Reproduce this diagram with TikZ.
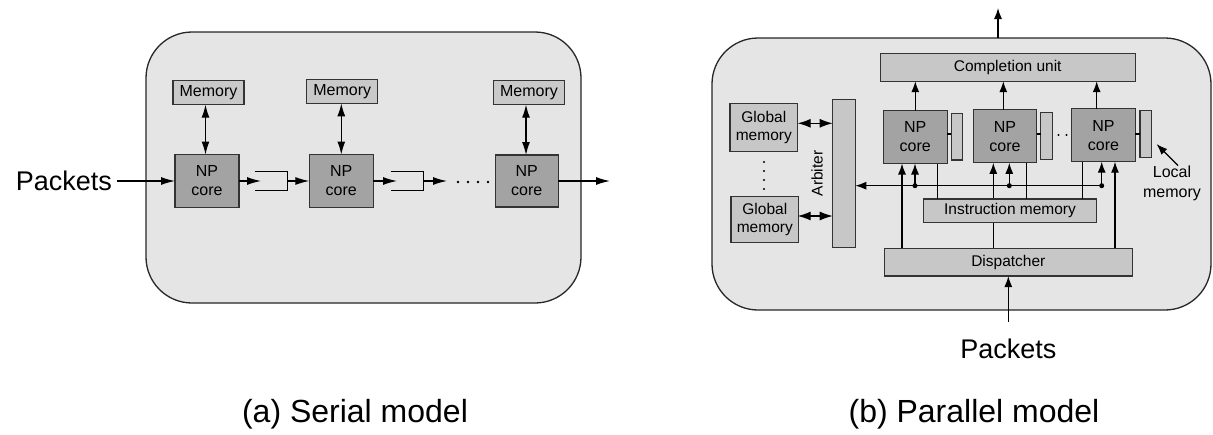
\documentclass[tikz,border=0pt]{standalone}
\usepackage{fontspec}
\setmainfont{Liberation Sans}
\usetikzlibrary{arrows.meta}
\begin{document}
\begin{tikzpicture}[x=1pt,y=-1pt,
  every node/.style={inner sep=0pt, outer sep=0pt},
  panel/.style={draw=black!85, line width=1.3pt, fill=black!10, rounded corners=46pt},
  membox/.style={draw=black!80, line width=1.3pt, fill=black!21, font=\fontsize{16}{18}\selectfont},
  corebox/.style={draw=black!80, line width=1.3pt, fill=black!36, font=\fontsize{16}{19}\selectfont, align=center},
  rcorebox/.style={draw=black!80, line width=1.3pt, fill=black!36, font=\fontsize{16}{19}\selectfont, align=center},
  unitbox/.style={draw=black!80, line width=1.3pt, fill=black!22, font=\fontsize{15.5}{18}\selectfont, align=center},
  conn/.style={line width=1.2pt, draw=black},
  arr/.style={conn, -{Latex[length=14pt,width=8pt]}},
  darr/.style={conn, {Latex[length=13pt,width=8pt]}-{Latex[length=13pt,width=8pt]}},
  sarr/.style={conn, -{Latex[length=11pt,width=8pt]}},
  sdarr/.style={conn, {Latex[length=13pt,width=9pt]}-{Latex[length=13pt,width=9pt]}},
  bigtext/.style={font=\fontsize{27}{30}\selectfont},
  captext/.style={font=\fontsize{32}{35}\selectfont}
]
\useasboundingbox (0,0) rectangle (1213,434);

% ---------------- (a) Serial model ----------------
\node[panel, minimum width=435pt, minimum height=271pt] (pana) at (363.5,167.5) {};

\node[membox, minimum width=71pt, minimum height=24pt] (mem1) at (208.5,92.7) {Memory};
\node[membox, minimum width=71pt, minimum height=24pt] (mem2) at (342.3,91.3) {Memory};
\node[membox, minimum width=71pt, minimum height=24pt] (mem3) at (529,92.7) {Memory};

\node[corebox, minimum width=64pt, minimum height=53pt] (np1) at (207,181) {NP\\core};
\node[corebox, minimum width=64pt, minimum height=53pt] (np2) at (341.3,181) {NP\\core};
\node[corebox, minimum width=63pt, minimum height=52pt] (np3) at (526.7,181) {NP\\core};

\node[minimum width=33pt, minimum height=19pt] (q1) at (271.3,181) {};
\node[minimum width=33pt, minimum height=19pt] (q2) at (407.3,181) {};
\draw[conn] (q1.north west) -- (q1.north east) -- (q1.south east) -- (q1.south west);
\draw[conn] (q2.north west) -- (q2.north east) -- (q2.south east) -- (q2.south west);

\node[bigtext, anchor=east] (pkta) at (112,181) {Packets};
\coordinate (qa1) at (261,181);
\coordinate (qa2) at (397,181);
\coordinate (dotsa) at (447,181);
\coordinate (outa) at (610,181);

\draw[arr] ([xshift=5pt]pkta.east) -- (np1.west);
\draw[arr] (np1.east) -- (qa1);
\draw[arr] (q1.east) -- (np2.west);
\draw[arr] (np2.east) -- (qa2);
\draw[arr] (q2.east) -- (dotsa);
\draw[arr] (np3.east) -- (outa);
\foreach \x in {458,468,478,488} \fill (\x,182) circle (1.3pt);

\draw[darr] ([xshift=-3pt]mem1.south) -- ([xshift=-3pt]mem1.south |- np1.north);
\draw[darr] ([xshift=-1pt]mem2.south) -- ([xshift=-1pt]mem2.south |- np2.north);
\draw[darr] ([xshift=-3pt]mem3.south) -- ([xshift=-3pt]mem3.south |- np3.north);

\node[captext] (capa) at (355,414) {(a) Serial model};

% ---------------- (b) Parallel model ----------------
\node[panel, minimum width=499pt, minimum height=272pt] (panb) at (961.5,174) {};

\node[unitbox, minimum width=255pt, minimum height=28pt] (comp) at (1007.7,67.2) {Completion unit};

\node[rcorebox, minimum width=64pt, minimum height=53pt] (npa) at (915.3,137) {NP\\core};
\node[rcorebox, minimum width=63.4pt, minimum height=53pt] (npb) at (1005,136.3) {NP\\core};
\node[rcorebox, minimum width=63.6pt, minimum height=53pt] (npc) at (1103.5,135.2) {NP\\core};

\node[unitbox, minimum width=11.4pt, minimum height=46.7pt] (lma) at (957,136.7) {};
\node[unitbox, minimum width=11.6pt, minimum height=47pt] (lmb) at (1046.5,136) {};
\node[unitbox, minimum width=11.7pt, minimum height=46.6pt] (lmc) at (1145.8,134) {};
\draw[conn] (npa.east |- 0,134) -- (lma.west |- 0,134);
\draw[conn] (npb.east |- 0,134) -- (lmb.west |- 0,134);
\draw[conn] (npc.east |- 0,134) -- (lmc.west |- 0,134);
\fill (1058.5,135) circle (1.2pt);
\fill (1066.5,135) circle (1.2pt);

\node[unitbox, minimum width=67.7pt, minimum height=48.4pt] (gm1) at (763.8,127.5) {Global\\memory};
\node[unitbox, minimum width=67.7pt, minimum height=45.6pt] (gm2) at (764.8,219.5) {Global\\memory};
\foreach \y in {162,171,180,189} \fill (764,\y) circle (1.2pt);

\node[unitbox, minimum width=22.6pt, minimum height=148pt] (arb) at (844,173.3) {};
\node[font=\fontsize{15.5}{18}\selectfont, rotate=90] (arbl) at (817,173.3) {Arbiter};

\node[unitbox, minimum width=173.4pt, minimum height=23.7pt] (im) at (1010,210.8) {Instruction memory};
\node[unitbox, minimum width=248pt, minimum height=27.7pt] (disp) at (1008.3,262.2) {Dispatcher};

% arrows to completion unit
\draw[sarr] (npa.north) -- (npa.north |- comp.south);
\draw[sarr] ([xshift=-1.7pt]npb.north) -- ([xshift=-1.7pt]npb.north |- comp.south);
\draw[sarr] ([xshift=-6.8pt]npc.north) -- ([xshift=-6.8pt]npc.north |- comp.south);

% output and input
\coordinate (outb) at (998,8);
\draw[sarr] (panb.north -| outb) -- (outb);
\node[bigtext] (pktb) at (1008.3,349) {Packets};
\coordinate (inb) at (1008.3,322);
\draw[sarr] (inb) -- (inb |- disp.south);

% bus to arbiter
\coordinate (ba) at (915,185.7);
\coordinate (bb) at (1009.3,185.7);
\coordinate (bc) at (1101.7,185.7);
\draw[sarr] (bc) -- (bc -| arb.east);
\foreach \c in {ba,bb,bc} \fill (\c) circle (2.5pt);
\draw[sarr] (ba) -- (ba |- npa.south);
\draw[sarr] (bb) -- (bb |- npb.south);
\draw[sarr] (bc) -- (bc |- npc.south);

% dispatcher to cores
\draw[sarr] (902,0 |- disp.north) -- (902,0 |- npa.south);
\draw[sarr] (993.3,0 |- disp.north) -- (993.3,0 |- npb.south);
\draw[sarr] (1115,0 |- disp.north) -- (1115,0 |- npc.south);
% instruction memory drawn over the dispatcher line
\node[unitbox, minimum width=173.4pt, minimum height=23.7pt] at (im) {Instruction memory};

% instruction memory to cores
\draw[conn] (937.3,0 |- npa.south) -- (937.3,0 |- im.north);
\draw[conn] (1026.7,0 |- npb.south) -- (1026.7,0 |- im.north);
\draw[conn] (1082.3,0 |- npc.south) -- (1082.3,0 |- im.north);

% global memories to arbiter
\draw[sdarr] ([yshift=4.2pt]gm1.east) -- ([yshift=4.2pt]gm1.east -| arb.west);
\draw[sdarr] ([yshift=3.5pt,xshift=-1pt]gm2.east) -- ([yshift=3.5pt]gm2.east -| arb.west);

% local memory label
\node[font=\fontsize{16}{20}\selectfont, align=center] (lml) at (1172,183) {Local\\memory};
\coordinate (lmt) at (1156.5,144);
\draw[sarr] ([xshift=6pt]lml.north) -- (lmt);

\node[captext] (capb) at (974,414) {(b) Parallel model};
\end{tikzpicture}
\end{document}
